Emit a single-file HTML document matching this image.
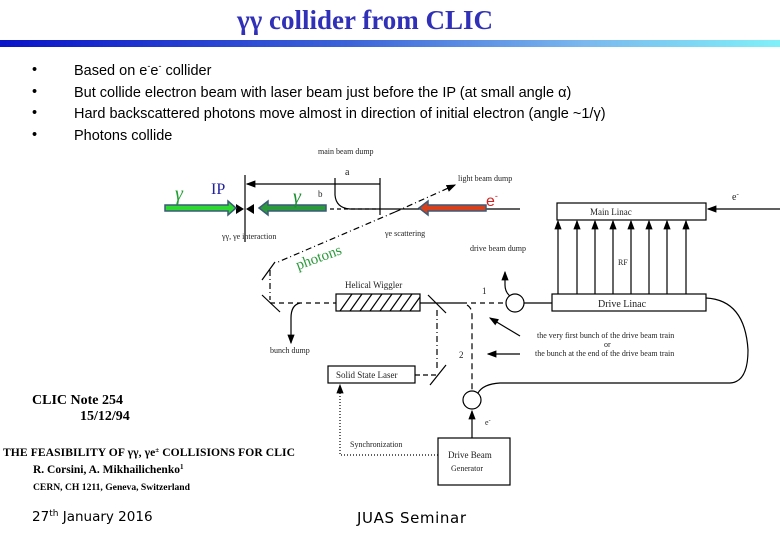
<!DOCTYPE html>
<html><head><meta charset="utf-8"><style>
body{margin:0;background:#fff}
#w{position:relative;width:780px;height:540px;overflow:hidden;background:#fff;font-family:"Liberation Sans",sans-serif}
.t{position:absolute;white-space:nowrap}
</style></head><body><div id="w">
<div class="t" style="left:0;width:730px;text-align:center;top:5px;font:bold 27px 'Liberation Serif',serif;color:#3030b8;">γγ collider from CLIC</div>
<div style="position:absolute;left:0;top:40px;width:780px;height:7px;background:linear-gradient(90deg,#0a14c8,#3c64d8 45%,#7ab8ee 75%,#80f0f8)"></div>
<div class="t" style="left:32px;top:60px;font-size:14.5px;line-height:21.7px;color:#000">•<br>•<br>•<br>•</div>
<div class="t" style="left:74px;top:56px;font-size:14.5px;line-height:21.7px;color:#000">Based on e<sup style="font-size:9px">-</sup>e<sup style="font-size:9px">-</sup> collider<br>But collide electron beam with laser beam just before the IP (at small angle α)<br>Hard backscattered photons move almost in direction of initial electron (angle ~1/γ)<br>Photons collide</div>
<svg width="780" height="540" style="position:absolute;left:0;top:0" font-family="Liberation Serif,serif">
<defs><marker id="a" markerWidth="8" markerHeight="8" refX="7" refY="4" orient="auto"><path d="M0,1 L8,4 L0,7z" fill="#000"/></marker></defs>
<g stroke="#000" fill="none" stroke-width="1.2">
<line x1="245" y1="175" x2="245" y2="242"/>
<line x1="380" y1="178" x2="380" y2="215"/>
<line x1="380" y1="184" x2="247" y2="184" marker-end="url(#a)"/>
<path d="M335,178 L335,195 Q336,208 350,209 L520,209" />
<line x1="646" y1="209" x2="557" y2="209"/>
<line x1="780" y1="209" x2="708" y2="209" marker-end="url(#a)"/>
<rect x="557" y="203" width="149" height="17" fill="#fff"/>
<rect x="552" y="294" width="154" height="17" fill="#fff"/>
<g marker-end="url(#a)"><line x1="558" y1="294" x2="558" y2="221"/><line x1="577" y1="294" x2="577" y2="221"/><line x1="595" y1="294" x2="595" y2="221"/><line x1="613" y1="294" x2="613" y2="221"/><line x1="631" y1="294" x2="631" y2="221"/><line x1="649" y1="294" x2="649" y2="221"/><line x1="667" y1="294" x2="667" y2="221"/><line x1="686" y1="294" x2="686" y2="221"/></g>
<circle cx="515" cy="303" r="9"/><line x1="524" y1="303" x2="552" y2="303"/>
<path d="M510,296 Q505,292 505,285 L505,272" marker-end="url(#a)"/>
<line x1="420" y1="303" x2="462" y2="303"/>
<line x1="462" y1="303" x2="506" y2="303" stroke-dasharray="5,4"/>
<line x1="270" y1="303" x2="336" y2="303" stroke-dasharray="5,4"/>
<path d="M300,303 Q291,305 291,318 L291,343" marker-end="url(#a)"/>
<rect x="336" y="294" width="84" height="17" fill="#fff"/>
<line x1="437" y1="310" x2="437" y2="370" stroke-dasharray="6,3,1,3"/>
<path d="M467,305 Q472,308 472,315 L472,391" stroke-dasharray="6,4"/>
<line x1="270" y1="270" x2="270" y2="300" stroke-dasharray="6,3,1,3"/>
<line x1="262" y1="280" x2="275" y2="262"/><line x1="262" y1="295" x2="280" y2="312"/>
<line x1="428" y1="295" x2="446" y2="313"/><line x1="430" y1="385" x2="446" y2="365"/>
<line x1="415" y1="375" x2="436" y2="375" stroke-dasharray="5,3"/>
<rect x="328" y="366" width="87" height="17" fill="#fff"/>
<circle cx="472" cy="400" r="9"/>
<line x1="472" y1="438" x2="472" y2="411" marker-end="url(#a)"/>
<rect x="438" y="438" width="72" height="47" fill="#fff"/>
<path d="M706,298 Q745,300 748,350 Q748,382 730,383 L500,383 Q483,384 478,393"/>
<path d="M438,455 L340,455 L340,385" stroke-dasharray="1,2" marker-end="url(#a)"/>
<line x1="395" y1="212" x2="455" y2="185" stroke-dasharray="6,3,1,3" marker-end="url(#a)"/>
<line x1="395" y1="212" x2="278" y2="262" stroke-dasharray="6,3,1,3"/>
<line x1="520" y1="336" x2="490" y2="318" marker-end="url(#a)"/>
<line x1="520" y1="354" x2="488" y2="354" marker-end="url(#a)"/>
<line x1="330" y1="209" x2="380" y2="209" stroke-dasharray="4,3"/>
</g>
<g stroke="#000" stroke-width="1.2">
<line x1="340" y1="311" x2="352" y2="294"/><line x1="350" y1="311" x2="362" y2="294"/><line x1="360" y1="311" x2="372" y2="294"/><line x1="370" y1="311" x2="382" y2="294"/><line x1="380" y1="311" x2="392" y2="294"/><line x1="390" y1="311" x2="402" y2="294"/><line x1="400" y1="311" x2="412" y2="294"/><line x1="410" y1="311" x2="420" y2="297"/>
</g>
<path d="M236,204 L244,209 L236,214z M254,204 L246,209 L254,214z" fill="#000"/>
<g stroke-width="1.5" stroke="#3a5a78">
<path d="M165,205 L228,205 L228,201 L236,208 L228,215 L228,211 L165,211z" fill="#2ed830"/>
<path d="M326,205 L268,205 L268,201 L259,208 L268,215 L268,211 L326,211z" fill="#2a9a3a"/>
<path d="M486,205 L428,205 L428,201 L419,208 L428,215 L428,211 L486,211z" fill="#d8401c"/>
</g>
<text x="175" y="200" fill="#1fa030" font-size="20" font-style="italic">γ</text>
<text x="293" y="203" fill="#1a9030" font-size="20" font-style="italic">γ</text>
<text x="211" y="194" fill="#2020a0" font-size="16">IP</text>
<text x="486" y="206" fill="#d02020" font-size="16" font-family="Liberation Sans">e<tspan font-size="9" dy="-7">-</tspan></text>
<text x="298" y="270" fill="#2a9a3a" font-size="15" transform="rotate(-20 298 270)">photons</text>
<g font-size="8" fill="#222">
<text x="318" y="154">main beam dump</text><text x="345" y="175" font-size="10">a</text><text x="318" y="197" font-size="9">b</text>
<text x="458" y="181">light beam dump</text><text x="222" y="239">γγ, γe interaction</text><text x="385" y="236">γe scattering</text>
<text x="732" y="200" font-size="10">e<tspan font-size="7" dy="-4">-</tspan></text>
<text x="590" y="215" font-size="9">Main Linac</text><text x="598" y="307" font-size="10">Drive Linac</text>
<text x="470" y="251">drive beam dump</text><text x="618" y="265">RF</text>
<text x="345" y="288" font-size="9">Helical Wiggler</text><text x="482" y="294" font-size="9">1</text><text x="459" y="358" font-size="9">2</text>
<text x="270" y="353">bunch dump</text>
<text x="537" y="338">the very first bunch of the drive beam train</text><text x="604" y="347">or</text><text x="535" y="356">the bunch at the end of the drive beam train</text>
<text x="336" y="378" font-size="9">Solid State Laser</text><text x="485" y="425">e<tspan font-size="6" dy="-3">-</tspan></text>
<text x="350" y="447">Synchronization</text><text x="448" y="458" font-size="9">Drive Beam</text><text x="451" y="471" font-size="8">Generator</text>
</g>
<g font-weight="bold" fill="#000">
<text x="32" y="404" font-size="14">CLIC Note 254</text><text x="80" y="420" font-size="14">15/12/94</text>
<text x="3" y="456" font-size="11.6" textLength="292">THE FEASIBILITY OF γγ, γe<tspan font-size="7" dy="-4">±</tspan><tspan dy="4"> COLLISIONS FOR CLIC</tspan></text>
<text x="33" y="473" font-size="11.5">R. Corsini,  A. Mikhailichenko<tspan font-size="7" dy="-4">1</tspan></text>
<text x="33" y="490" font-size="9.6">CERN, CH 1211, Geneva, Switzerland</text>
</g>
<text x="32" y="521" font-size="13.5" font-family="DejaVu Sans,sans-serif" fill="#000">27<tspan font-size="9" dy="-5">th</tspan><tspan dy="5"> January 2016</tspan></text>
<text x="357" y="523" font-size="15" font-family="DejaVu Sans,sans-serif" fill="#000" textLength="109">JUAS Seminar</text>
</svg>
</div></body></html>
